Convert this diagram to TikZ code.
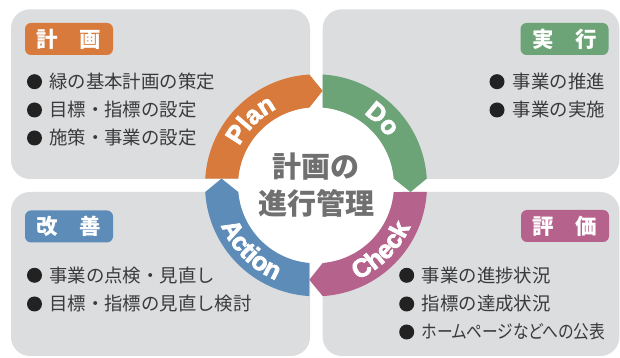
\documentclass[tikz,border=0pt]{standalone}
\usepackage{fontspec}
\newfontfamily\jpfont{Noto Sans CJK JP}
\newfontfamily\jppfont{Noto Sans CJK JP}[CharacterWidth=AlternateProportional]
\newfontfamily\ringfont{Liberation Sans Bold}[FakeBold=3]
\usetikzlibrary{decorations.text}
\definecolor{cPlan}{HTML}{D97A3D}
\definecolor{cDo}{HTML}{6CA478}
\definecolor{cCheck}{HTML}{B5638D}
\definecolor{cAction}{HTML}{5E8CB8}
\definecolor{panelgray}{HTML}{DCDDDF}
\definecolor{titlegray}{HTML}{707070}
\definecolor{itemc}{HTML}{3A3A3A}
\definecolor{bulletc}{HTML}{222222}
\newcommand\ringstyle{\ringfont\fontsize{25.5}{25.5}\selectfont\color{white}}
\tikzset{
  pics/seg/.style={code={
    \fill[#1] (-110.80,6.7) arc[start angle=176.54, end angle=93.46, radius=111pt]
      -- (6.7,94.5) -- (-6.7,77.71)
      arc[start angle=94.93, end angle=175.07, radius=78pt] -- cycle;
  }}
}
\begin{document}
\begin{tikzpicture}[x=1pt,y=1pt,
  panel/.style={fill=panelgray, rounded corners=19pt},
  tagbox/.style={rounded corners=6pt, minimum width=88pt, minimum height=32pt,
    inner sep=0pt, text=white, font=\jpfont\bfseries\fontsize{21.5}{21.5}\selectfont},
  dot/.style={circle, fill=bulletc, minimum size=15pt, inner sep=0pt},
  item/.style={anchor=west, inner sep=0pt, text=itemc,
    font=\jpfont\fontsize{18.4}{18.4}\selectfont},
  ringtext/.style={decorate, decoration={text along path, text align=center,
    text={|\ringstyle|#1}}}
]
\fill[white] (0,0) rectangle (620,358);
\useasboundingbox (0,0) rectangle (620,358);
% panels
\fill[panel] (11,179) rectangle (310,348.7);
\fill[panel] (322.7,179) rectangle (619.3,348.7);
\fill[panel] (11,2) rectangle (310,166);
\fill[panel] (322.7,2) rectangle (619.3,166);
% ring
\coordinate (ctr) at (316,172.7);
\fill[white] (ctr) circle[radius=78pt];
\pic[rotate=0] at (ctr) {seg=cPlan};
\pic[rotate=-90] at (ctr) {seg=cDo};
\pic[rotate=-180] at (ctr) {seg=cCheck};
\pic[rotate=-270] at (ctr) {seg=cAction};
\path[ringtext=Plan] (ctr) ++(180:86pt) arc[start angle=180, end angle=90, radius=86pt];
\path[ringtext=Do] (ctr) ++(90:86pt) arc[start angle=90, end angle=0, radius=86pt];
\path[ringtext=Check] (ctr) ++(270:103pt) arc[start angle=270, end angle=360, radius=103pt];
\path[ringtext=Action] (ctr) ++(180:103pt) arc[start angle=180, end angle=270, radius=103pt];
\node[align=center, text=titlegray, font=\jpfont\bfseries\fontsize{29}{37}\selectfont]
  (title) at (ctr) {計画の\\進行管理};
% tags
\node[tagbox, fill=cPlan] (tplan) at (69,319) {計　画};
\node[tagbox, fill=cDo] (tdo) at (564.5,319) {実　行};
\node[tagbox, fill=cAction] (taction) at (69,131.5) {改　善};
\node[tagbox, fill=cCheck] (tcheck) at (565,132) {評　価};
% plan items
\node[dot] (pb1) at (34.5,276.3) {}; \node[item] (p1) at (49,276.3) {緑の基本計画の策定};
\node[dot] (pb2) at (34.5,248) {}; \node[item] (p2) at (49,248) {目標・指標の設定};
\node[dot] (pb3) at (34.5,220) {}; \node[item] (p3) at (49,220) {施策・事業の設定};
% do items
\node[dot] (db1) at (497,276.3) {}; \node[item] (d1) at (512.7,276.3) {事業の推進};
\node[dot] (db2) at (497,248) {}; \node[item] (d2) at (512.7,248) {事業の実施};
% action items
\node[dot] (ab1) at (34.5,82.7) {}; \node[item] (a1) at (49,82.7) {事業の点検・見直し};
\node[dot] (ab2) at (34.5,54) {}; \node[item] (a2) at (49,54) {目標・指標の見直し検討};
% check items
\node[dot] (cb1) at (406.7,82.7) {}; \node[item] (c1) at (421.7,82.7) {事業の進捗状況};
\node[dot] (cb2) at (406.7,54) {}; \node[item] (c2) at (421.7,54) {指標の達成状況};
\node[dot] (cb3) at (406.7,26) {}; \node[item, font=\jppfont\fontsize{18.4}{18.4}\selectfont] (c3) at (421.7,26) {\resizebox{183pt}{\height}{ホームページなどへの公表}};
\end{tikzpicture}
\end{document}
